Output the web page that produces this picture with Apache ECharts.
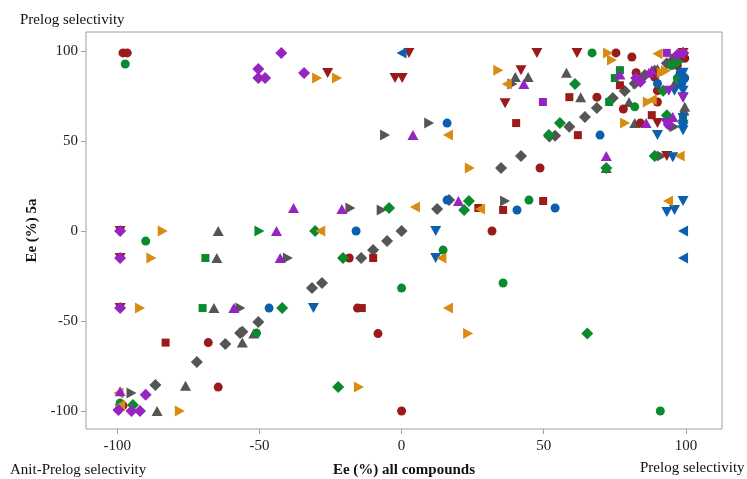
<!DOCTYPE html>
<html>
<head>
<meta charset="utf-8">
<script src="https://cdn.jsdelivr.net/npm/echarts@6/dist/echarts.min.js"></script>
<style>
  html, body { margin: 0; padding: 0; background: #fff; }
  #chart { width: 747px; height: 479px; }
</style>
</head>
<body>
<div id="chart"></div>
<script>
// tick values on both axes
var tickValues = [-100, -50, 0, 50, 100]

// points, [x, y] = [Ee all compounds, Ee 5a]
var grayDiamond = [[-86.6, -85.6], [-72, -72.8], [-62, -62.8], [-56.8, -56.7], [-56, -56], [-50.4, -50.6],
  [-31.5, -31.7], [-28, -28.9], [-14.2, -15], [-10, -10.6], [-5.1, -5.6], [0, 0], [12.5, 12.2], [16.7, 17.2],
  [35, 35], [42, 41.7], [52, 52.5], [54, 53], [59, 58], [64.5, 63.3], [68.7, 68.3], [74.3, 73.9], [78.5, 77.8],
  [82, 82], [85.6, 86.7], [89, 89], [93.3, 93.3], [97, 96.7], [99, 99]]
var grayTriUp = [[-86, -100], [-76, -86], [-66, -42.8], [-65, -15], [-64.5, 0], [-56, -62], [-52, -57],
  [40, 85.6], [44.5, 85.6], [58, 88], [63, 74.4], [72, 35], [80, 71.7], [82, 60], [96, 82], [99.3, 67],
  [99.6, 69], [95, 96], [90, 90]]
var grayTriRight = [[-95, -90], [-56.7, -42.8], [-40, -15], [-18, 12.8], [-7, 11.7], [-5.8, 53.3], [9.7, 60],
  [36.4, 16.7], [39, 81.7], [83, 82], [91.5, 41.7], [96, 58]]

var redCircle = [[-98, 99], [-96.5, 99], [-68, -62], [-64.5, -86.7], [-18.4, -15], [-15.5, -42.8], [-8.3, -57],
  [0, -100], [31.8, 0], [48.7, 35], [68.7, 74.4], [75.4, 99], [81, 96.7], [78, 67.8], [82.5, 88], [84, 60],
  [89, 85.6], [90, 78], [90, 71.7], [99.6, 96], [97, 92], [-98, -97]]
var redSquare = [[-83, -62], [-14, -42.8], [-10, -15], [27, 12.8], [35.7, 11.7], [40.3, 60], [49.8, 16.7],
  [59, 74.4], [62, 53.3], [76.8, 81], [88, 64.4], [89, 88]]
var redTriDown = [[-99, 0], [-99, -15], [-99, -42.8], [-26, 87.8], [-2.3, 85], [0.2, 85], [2.6, 99], [36.4, 71],
  [42, 89.4], [47.6, 99], [61.7, 99], [90, 60], [93.3, 41.7], [99, 99]]

var greenCircle = [[-97.2, 92.8], [-99, -95.6], [-90, -5.6], [-51, -56.7], [0, -31.7], [14.6, -10.6],
  [35.7, -28.9], [44.8, 17.2], [67, 99], [82, 69], [91, -100], [97, 85], [95, 92]]
var greenSquare = [[-69, -15], [-70, -42.8], [73, 71.7], [75, 85], [76.8, 89.4], [99, 62]]
var greenDiamond = [[-94.5, -96.7], [-42, -42.8], [-30.4, 0], [-22.3, -86.7], [-20.6, -15], [-4.4, 12.8],
  [22, 11.7], [23.7, 16.7], [51.8, 53.3], [55.7, 60], [61, 81.7], [65.3, -57], [72, 35], [89, 41.7], [92, 78],
  [93.3, 64.4], [97, 94], [99, 86]]
var greenTriRight = [[-50, 0]]

var blueCircle = [[-46.6, -42.8], [-16, 0], [16, 60], [16, 17.2], [40.6, 11.7], [54, 12.8], [69.8, 53.3],
  [90, 82], [98, 88], [99.6, 85], [98.5, 82], [94, 59]]
var blueTriDown = [[-99, -99], [-31, -42.8], [12, 0], [12, -15], [90, 53.3], [93.3, 10.6], [96, 11.7],
  [99, 16.7], [95.4, 41], [96, 78], [99, 88], [99, 81.7], [99, 78], [99, 74.4], [99, 62.8], [99, 57.8],
  [99, 56], [99, 59]]
var blueTriLeft = [[0, 99], [99, 0], [99, -15]]

var orangeTriRight = [[-84, 0], [-88, -15], [-92, -42.8], [-78, -100], [-29.7, 85], [-22.7, 85], [-15, -86.7],
  [23.4, -57], [24, 35], [34, 89.4], [72.6, 99], [74, 95], [78.6, 60], [86.6, 71.7], [91.5, 88], [93, 89]]
var orangeTriLeft = [[-99.6, -90], [-99, -97], [-28.6, 0], [4.7, 13.3], [14, -15], [16.3, -42.8], [16.3, 53.3],
  [27.6, 12.2], [37, 81.7], [90, 98.5], [97.8, 41.7], [93.7, 16.7], [88, 73]]

var purpleDiamond = [[-99, 0], [-99, -15], [-99, -42.8], [-90, -91], [-99.6, -99.4], [-95, -100], [-92, -100],
  [-50.4, 90], [-50.4, 85], [-48, 85], [-42.3, 99], [-34.3, 87.8], [94, 59], [99, 99], [97, 98], [82.5, 85],
  [84, 83]]
var purpleTriUp = [[-99, -89], [-59, -42.8], [-44, 0], [-42.7, -15], [-38, 12.8], [-21, 12.2], [4, 53.3],
  [20, 16.7], [43, 81.7], [72, 41.7], [86, 60], [87, 88], [88, 89.4], [95.4, 63.3], [76.8, 87]]
var purpleSquare = [[49.7, 71.7], [93.3, 99]]
var purpleTriDown = [[94, 78], [99, 74], [93, 60]]

var triDown = 'path://M0,0 L10,0 L5,9 Z'
var triRight = 'path://M0,0 L9,5 L0,10 Z'
var triLeft = 'path://M9,0 L0,5 L9,10 Z'

var RED = '#9b1a1a'
var GREEN = '#0a8a2e'
var BLUE = '#0b5fae'
var ORANGE = '#d98b12'
var PURPLE = '#9624c0'
var GRAY = '#555555'

function pts (data, color, symbol, size) {
  return {
    type: 'scatter',
    data: data,
    symbol: symbol,
    symbolSize: size,
    itemStyle: { color: color, opacity: 1 }
  }
}

var serif = '"Liberation Serif", "Times New Roman", serif'

var chart = echarts.init(document.getElementById('chart'))
var option = {
  animation: false,
  grid: {
    left: 86,
    right: 25,
    top: 32,
    bottom: 50,
    outerBoundsMode: 'none',
    show: true,
    borderColor: '#a0a0a0',
    borderWidth: 1
  },
  xAxis: {
    type: 'value',
    min: -111,
    max: 112.7,
    name: 'Ee (%) all compounds',
    nameLocation: 'middle',
    nameGap: 34,
    nameTextStyle: { fontFamily: serif, fontSize: 15, fontWeight: 'bold', color: '#111' },
    axisLine: { show: false, onZero: false },
    splitLine: { show: false },
    axisTick: { show: true, length: 5, lineStyle: { color: '#a0a0a0' }, customValues: tickValues },
    axisLabel: { fontFamily: serif, fontSize: 15, color: '#222', margin: 10, customValues: tickValues }
  },
  yAxis: {
    type: 'value',
    min: -110,
    max: 110.6,
    name: 'Ee (%) 5a',
    nameLocation: 'middle',
    nameGap: 39,
    nameTextStyle: { fontFamily: serif, fontSize: 15, fontWeight: 'bold', color: '#111' },
    axisLine: { show: false, onZero: false },
    splitLine: { show: false },
    axisTick: { show: true, length: 5, lineStyle: { color: '#a0a0a0' }, customValues: tickValues },
    axisLabel: { fontFamily: serif, fontSize: 15, color: '#222', margin: 8, customValues: tickValues }
  },
  graphic: [
    { type: 'text', left: 20, top: 13, style: { text: 'Prelog selectivity', font: '15px ' + serif, fill: '#111' } },
    { type: 'text', left: 10, top: 463, style: { text: 'Anit-Prelog selectivity', font: '15px ' + serif, fill: '#111' } },
    { type: 'text', left: 640, top: 461, style: { text: 'Prelog selectivity', font: '15px ' + serif, fill: '#111' } }
  ],
  series: [
    pts(grayDiamond, GRAY, 'diamond', 12),
    pts(grayTriUp, GRAY, 'triangle', [11, 10]),
    pts(grayTriRight, GRAY, triRight, [10, 11]),
    pts(redCircle, RED, 'circle', 9),
    pts(redSquare, RED, 'rect', 8),
    pts(redTriDown, RED, triDown, [11, 10]),
    pts(greenCircle, GREEN, 'circle', 9),
    pts(greenSquare, GREEN, 'rect', 8),
    pts(greenDiamond, GREEN, 'diamond', 12),
    pts(greenTriRight, GREEN, triRight, [10, 11]),
    pts(blueCircle, BLUE, 'circle', 9),
    pts(blueTriDown, BLUE, triDown, [11, 10]),
    pts(blueTriLeft, BLUE, triLeft, [10, 11]),
    pts(orangeTriRight, ORANGE, triRight, [10, 11]),
    pts(orangeTriLeft, ORANGE, triLeft, [10, 11]),
    pts(purpleDiamond, PURPLE, 'diamond', 12),
    pts(purpleTriUp, PURPLE, 'triangle', [11, 10]),
    pts(purpleSquare, PURPLE, 'rect', 8),
    pts(purpleTriDown, PURPLE, triDown, [11, 10])
  ]
}
chart.setOption(option)
</script>
</body>
</html>
